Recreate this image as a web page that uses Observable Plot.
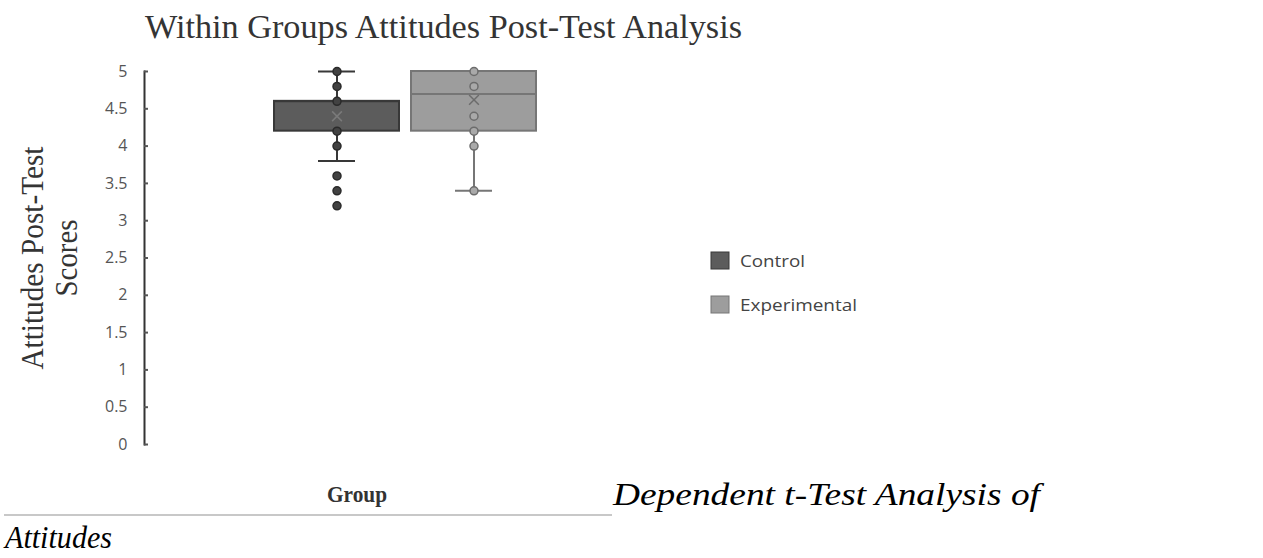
<!DOCTYPE html>
<html><head><meta charset="utf-8">
<script src="https://cdn.jsdelivr.net/npm/d3@7"></script>
<script src="https://cdn.jsdelivr.net/npm/@observablehq/plot@0.6"></script>
<style>
body{margin:0;background:#fff;overflow:hidden}
#wrap{position:relative;width:1263px;height:558px}
</style></head><body><div id="wrap"></div>
<script>
// ---- data ----
const groups = ["Control", "Experimental"];
const whiskerLow = [3.8, 3.4];
const quartile1 = [4.2, 4.2];
const medians = [4.6, 4.7];
const quartile3 = [4.6, 5.0];
const whiskerHigh = [5.0, 5.0];
const means = [4.4, 4.62];
const controlPoints = [5.0, 4.8, 4.6, 4.2, 4.0];
const controlOutliers = [3.6, 3.4, 3.2];
const experimentalPoints = [5.0, 4.8, 4.4, 4.2, 4.0, 3.4];
const yTicks = [0, 0.5, 1, 1.5, 2, 2.5, 3, 3.5, 4, 4.5, 5];

const titleText = "Within Groups Attitudes Post-Test Analysis";
const yTitleLines = ["Attitudes Post-Test", "Scores"];
const xTitleText = "Group";
const captionLine1 = "Dependent t-Test Analysis of";
const captionLine2 = "Attitudes";

// ---- styles ----
const boxFill = ["#5c5c5c", "#9d9d9d"];
const boxStroke = ["#383838", "#767676"];
const pointFill = ["#424242", "#a9a9a9"];
const pointStroke = ["#2a2a2a", "#6c6c6c"];

const summary = groups.map((g, i) => ({
  group: g, lo: whiskerLow[i], q1: quartile1[i], med: medians[i],
  q3: quartile3[i], hi: whiskerHigh[i], mean: means[i]
}));
const points = [
  ...controlPoints.map(v => ({group: "Control", v})),
  ...controlOutliers.map(v => ({group: "Control", v})),
  ...experimentalPoints.map(v => ({group: "Experimental", v}))
];
const idx = g => groups.indexOf(g);
const strokeOf = d => boxStroke[idx(d.group)];

const chart = Plot.plot({
  width: 1263, height: 558,
  marginTop: 71, marginBottom: 114, marginLeft: 144, marginRight: 597,
  style: {fontFamily: "'Open Sans', sans-serif", background: "transparent"},
  x: {domain: groups, paddingInner: 0.0876, paddingOuter: 0.949, round: false, axis: null},
  y: {domain: [0, 5], axis: null},
  color: {domain: groups, range: boxFill},
  marks: [
    Plot.frame({anchor: "left", stroke: "#333", strokeWidth: 2}),
    Plot.axisY(yTicks, {anchor: "left", tickSize: 4, dx: 4, tickPadding: 17, fontSize: 16,
      color: "#555", strokeWidth: 2, label: null, tickFormat: d => String(d)}),
    Plot.ruleX(summary, {x: "group", y1: "lo", y2: "q1", stroke: strokeOf, strokeWidth: 2}),
    Plot.ruleX(summary, {x: "group", y1: "q3", y2: "hi", stroke: strokeOf, strokeWidth: 2}),
    Plot.tickY(summary, {x: "group", y: "lo", insetLeft: 44, insetRight: 44, stroke: strokeOf, strokeWidth: 2}),
    Plot.tickY(summary, {x: "group", y: "hi", insetLeft: 44, insetRight: 44, stroke: strokeOf, strokeWidth: 2}),
    Plot.barY(summary, {x: "group", y1: "q1", y2: "q3", fill: "group", stroke: strokeOf, strokeWidth: 2}),
    Plot.tickY(summary, {x: "group", y: "med", stroke: strokeOf, strokeWidth: 2}),
    Plot.dot(points, {x: "group", y: "v", r: 4, fill: d => pointFill[idx(d.group)], stroke: d => pointStroke[idx(d.group)], strokeWidth: 1.5}),
    Plot.dot(summary, {x: "group", y: "mean", symbol: "times", r: 4.5, stroke: d => idx(d.group) === 0 ? "#7a7a7a" : "#6c6c6c", strokeWidth: 1.5})
  ]
});
document.getElementById("wrap").appendChild(chart);

// ---- texts & legend ----
const svg = d3.select(chart);
function addText(str, o) {
  const t = svg.append("text").text(str)
    .attr("x", o.x).attr("y", o.y)
    .attr("font-family", o.family).attr("font-size", o.size)
    .attr("fill", o.color || "#333")
    .attr("text-anchor", o.anchor || "start");
  if (o.weight) t.attr("font-weight", o.weight);
  if (o.italic) t.attr("font-style", "italic");
  if (o.len) t.attr("textLength", o.len).attr("lengthAdjust", "spacingAndGlyphs");
  if (o.rotate) t.attr("transform", `rotate(-90 ${o.x} ${o.y})`);
  return t;
}
const serif = "'Liberation Serif', 'Times New Roman', serif";
addText(titleText, {x: 145, y: 38, family: serif, size: 33, len: 597, color: "#343434"});
addText(yTitleLines[0], {x: 43, y: 258, family: serif, size: 31, len: 223, anchor: "middle", rotate: true, color: "#343434"});
addText(yTitleLines[1], {x: 77, y: 258, family: serif, size: 31, len: 77, anchor: "middle", rotate: true, color: "#343434"});
addText(xTitleText, {x: 357, y: 502, family: serif, size: 24, weight: "bold", len: 60, anchor: "middle", color: "#333"});
svg.append("line").attr("x1", 4).attr("x2", 612).attr("y1", 515).attr("y2", 515)
  .attr("stroke", "#c8c8c8").attr("stroke-width", 2);
addText(captionLine1, {x: 613, y: 505, family: serif, size: 31, italic: true, len: 427, color: "#000"});
addText(captionLine2, {x: 5, y: 548, family: serif, size: 31, italic: true, len: 107, color: "#000"});

const color = chart.scale("color");
const legendTop = [252, 296];
groups.forEach((g, i) => {
  svg.append("rect").attr("x", 711).attr("y", legendTop[i]).attr("width", 18).attr("height", 17)
    .attr("fill", color.apply(g)).attr("stroke", boxStroke[i]).attr("stroke-width", 1);
  addText(g, {x: 740, y: legendTop[i] + 15, family: "'Open Sans', sans-serif", size: 16,
    len: i === 0 ? 65 : 117, color: "#444"});
});
</script></body></html>
